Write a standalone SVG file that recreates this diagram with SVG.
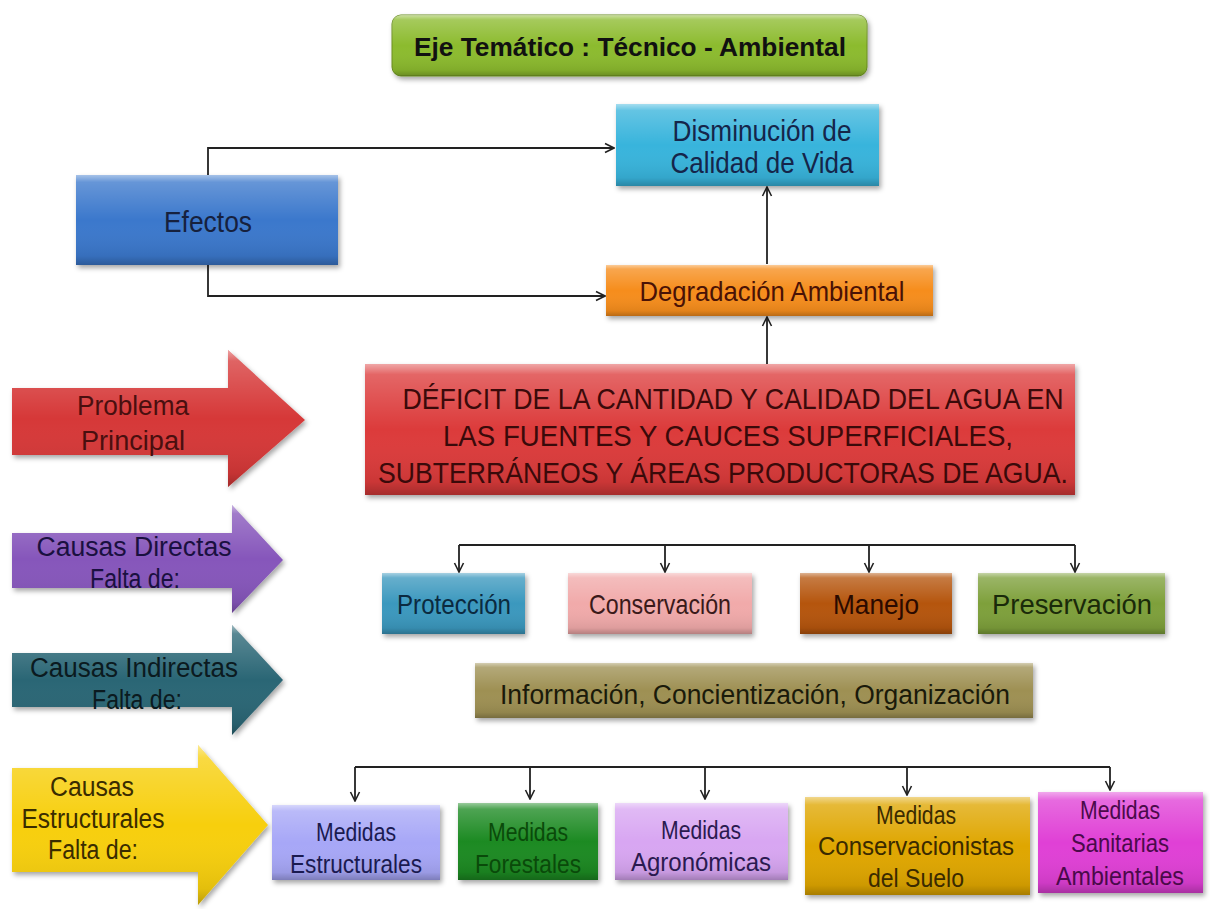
<svg xmlns="http://www.w3.org/2000/svg" width="1210" height="909" viewBox="0 0 1210 909">
<defs>
<filter id="sh" x="-10%" y="-10%" width="130%" height="140%"><feDropShadow dx="2" dy="3" stdDeviation="2.5" flood-color="#000" flood-opacity="0.35"/></filter>
<linearGradient id="gloss" x1="0" y1="0" x2="0" y2="1">
<stop offset="0" stop-color="#fff" stop-opacity="0.55"/>
<stop offset="0.08" stop-color="#fff" stop-opacity="0.22"/>
<stop offset="0.5" stop-color="#fff" stop-opacity="0"/>
<stop offset="0.9" stop-color="#000" stop-opacity="0.08"/>
<stop offset="1" stop-color="#000" stop-opacity="0.25"/>
</linearGradient>
<marker id="ah" viewBox="0 0 12 12" refX="11" refY="6" markerWidth="12" markerHeight="12" markerUnits="userSpaceOnUse" orient="auto">
<path d="M2,1.5 L11,6 L2,10.5" fill="none" stroke="#222" stroke-width="1.6"/>
</marker>
<style>
.t{font-family:"Liberation Sans",Arial,sans-serif;text-anchor:middle}
.g{fill:url(#gloss)}
.c{fill:none;stroke:#222;stroke-width:1.8}
</style>
</defs>
<rect width="1210" height="909" fill="#fff"/>

<g id="connectors">
<polyline class="c" points="208,175 208,148 614,148" marker-end="url(#ah)"/>
<polyline class="c" points="208,265 208,296 605,296" marker-end="url(#ah)"/>
<line class="c" x1="767" y1="264" x2="767" y2="187" marker-end="url(#ah)"/>
<line class="c" x1="767" y1="364" x2="767" y2="317" marker-end="url(#ah)"/>
<line class="c" x1="459" y1="545" x2="1075" y2="545"/>
<line class="c" x1="459" y1="545" x2="459" y2="572" marker-end="url(#ah)"/>
<line class="c" x1="665" y1="545" x2="665" y2="572" marker-end="url(#ah)"/>
<line class="c" x1="869" y1="545" x2="869" y2="572" marker-end="url(#ah)"/>
<line class="c" x1="1075" y1="545" x2="1075" y2="572" marker-end="url(#ah)"/>
<line class="c" x1="355" y1="767" x2="1110" y2="767"/>
<line class="c" x1="355" y1="767" x2="355" y2="801" marker-end="url(#ah)"/>
<line class="c" x1="530" y1="767" x2="530" y2="799" marker-end="url(#ah)"/>
<line class="c" x1="705" y1="767" x2="705" y2="799" marker-end="url(#ah)"/>
<line class="c" x1="907" y1="767" x2="907" y2="795" marker-end="url(#ah)"/>
<line class="c" x1="1110" y1="767" x2="1110" y2="790" marker-end="url(#ah)"/>
</g>

<g id="titulo">
<rect x="392" y="15" width="475" height="61" rx="9" fill="#8cbb2e" stroke="#6a8f20" stroke-width="1" filter="url(#sh)"/>
<rect x="392" y="15" width="475" height="61" rx="9" class="g"/>
<text class="t" x="630" y="56" font-size="26" font-weight="bold" fill="#111" textLength="432" lengthAdjust="spacingAndGlyphs">Eje Temático : Técnico - Ambiental</text>
</g>

<g id="disminucion">
<rect x="616" y="104" width="263" height="82" fill="#38b4dc" filter="url(#sh)"/>
<rect x="616" y="104" width="263" height="82" class="g"/>
<text class="t" x="762" y="141" font-size="29" fill="#15254a" textLength="179" lengthAdjust="spacingAndGlyphs">Disminución de</text>
<text class="t" x="762" y="173" font-size="29" fill="#15254a" textLength="183" lengthAdjust="spacingAndGlyphs">Calidad de Vida</text>
</g>

<g id="efectos">
<rect x="76" y="175" width="262" height="90" fill="#3a78cc" filter="url(#sh)"/>
<rect x="76" y="175" width="262" height="90" class="g"/>
<text class="t" x="208" y="232" font-size="29" fill="#16213e" textLength="88" lengthAdjust="spacingAndGlyphs">Efectos</text>
</g>

<g id="degradacion">
<rect x="606" y="265" width="327" height="51" fill="#f68d1f" filter="url(#sh)"/>
<rect x="606" y="265" width="327" height="51" class="g"/>
<text class="t" x="772" y="301" font-size="28" fill="#4a1206" textLength="265" lengthAdjust="spacingAndGlyphs">Degradación Ambiental</text>
</g>

<g id="problema">
<rect x="365" y="364" width="710" height="131" fill="#dc3a3a" filter="url(#sh)"/>
<rect x="365" y="364" width="710" height="131" class="g"/>
<text class="t" x="733" y="409" font-size="30" fill="#3a0a0a" textLength="661" lengthAdjust="spacingAndGlyphs">DÉFICIT DE LA CANTIDAD Y CALIDAD DEL AGUA EN</text>
<text class="t" x="728" y="446" font-size="30" fill="#3a0a0a" textLength="570" lengthAdjust="spacingAndGlyphs">LAS FUENTES Y CAUCES SUPERFICIALES,</text>
<text class="t" x="723" y="483" font-size="30" fill="#3a0a0a" textLength="690" lengthAdjust="spacingAndGlyphs">SUBTERRÁNEOS Y ÁREAS PRODUCTORAS DE AGUA.</text>
</g>

<g id="flecha-problema">
<path d="M12,388 H228 V350 L305,420 L228,487 V455 H12 Z" fill="#d63838" filter="url(#sh)"/>
<path d="M12,388 H228 V350 L305,420 L228,487 V455 H12 Z" class="g"/>
<text class="t" x="133" y="415" font-size="27" fill="#4a0f0f" textLength="112" lengthAdjust="spacingAndGlyphs">Problema</text>
<text class="t" x="133" y="450" font-size="27" fill="#4a0f0f" textLength="104" lengthAdjust="spacingAndGlyphs">Principal</text>
</g>

<g id="flecha-directas">
<path d="M12,533 H232 V505 L283,560 L232,613 V588 H12 Z" fill="#8656bb" filter="url(#sh)"/>
<path d="M12,533 H232 V505 L283,560 L232,613 V588 H12 Z" class="g"/>
<text class="t" x="134" y="556" font-size="27" fill="#1a1040" textLength="195" lengthAdjust="spacingAndGlyphs">Causas Directas</text>
<text class="t" x="135" y="588" font-size="27" fill="#1a1040" textLength="90" lengthAdjust="spacingAndGlyphs">Falta de:</text>
</g>

<g id="flecha-indirectas">
<path d="M12,653 H232 V625 L283,680 L232,735 V707 H12 Z" fill="#2c6674" filter="url(#sh)"/>
<path d="M12,653 H232 V625 L283,680 L232,735 V707 H12 Z" class="g"/>
<text class="t" x="134" y="677" font-size="27" fill="#0b1a20" textLength="208" lengthAdjust="spacingAndGlyphs">Causas Indirectas</text>
<text class="t" x="137" y="709" font-size="27" fill="#0b1a20" textLength="90" lengthAdjust="spacingAndGlyphs">Falta de:</text>
</g>

<g id="flecha-estructurales">
<path d="M12,768 H198 V745 L268,825 L198,905 V872 H12 Z" fill="#f7cf0a" filter="url(#sh)"/>
<path d="M12,768 H198 V745 L268,825 L198,905 V872 H12 Z" class="g"/>
<text class="t" x="92" y="796" font-size="27" fill="#3a2c00" textLength="84" lengthAdjust="spacingAndGlyphs">Causas</text>
<text class="t" x="93" y="828" font-size="27" fill="#3a2c00" textLength="143" lengthAdjust="spacingAndGlyphs">Estructurales</text>
<text class="t" x="93" y="859" font-size="27" fill="#3a2c00" textLength="90" lengthAdjust="spacingAndGlyphs">Falta de:</text>
</g>

<g id="proteccion">
<rect x="382" y="573" width="143" height="61" fill="#3a98be" filter="url(#sh)"/>
<rect x="382" y="573" width="143" height="61" class="g"/>
<text class="t" x="454" y="614" font-size="28" fill="#0b2a40" textLength="114" lengthAdjust="spacingAndGlyphs">Protección</text>
</g>
<g id="conservacion">
<rect x="568" y="573" width="184" height="61" fill="#f1aaaa" filter="url(#sh)"/>
<rect x="568" y="573" width="184" height="61" class="g"/>
<text class="t" x="660" y="614" font-size="28" fill="#3a1a1a" textLength="142" lengthAdjust="spacingAndGlyphs">Conservación</text>
</g>
<g id="manejo">
<rect x="800" y="573" width="152" height="61" fill="#b5540e" filter="url(#sh)"/>
<rect x="800" y="573" width="152" height="61" class="g"/>
<text class="t" x="876" y="614" font-size="28" fill="#2a0a00" textLength="86" lengthAdjust="spacingAndGlyphs">Manejo</text>
</g>
<g id="preservacion">
<rect x="978" y="573" width="187" height="61" fill="#7ea03a" filter="url(#sh)"/>
<rect x="978" y="573" width="187" height="61" class="g"/>
<text class="t" x="1072" y="614" font-size="28" fill="#1a2a0a" textLength="160" lengthAdjust="spacingAndGlyphs">Preservación</text>
</g>

<g id="informacion">
<rect x="475" y="663" width="558" height="55" fill="#9e9052" filter="url(#sh)"/>
<rect x="475" y="663" width="558" height="55" class="g"/>
<text class="t" x="755" y="704" font-size="27" fill="#1a1a0a" textLength="510" lengthAdjust="spacingAndGlyphs">Información, Concientización, Organización</text>
</g>

<g id="m-estructurales">
<rect x="272" y="805" width="168" height="75" fill="#a7a7f7" filter="url(#sh)"/>
<rect x="272" y="805" width="168" height="75" class="g"/>
<text class="t" x="356" y="841" font-size="26" fill="#1a1a50" textLength="80" lengthAdjust="spacingAndGlyphs">Medidas</text>
<text class="t" x="356" y="873" font-size="26" fill="#1a1a50" textLength="132" lengthAdjust="spacingAndGlyphs">Estructurales</text>
</g>
<g id="m-forestales">
<rect x="458" y="803" width="140" height="77" fill="#1b8a22" filter="url(#sh)"/>
<rect x="458" y="803" width="140" height="77" class="g"/>
<text class="t" x="528" y="841" font-size="26" fill="#0a4a0a" textLength="80" lengthAdjust="spacingAndGlyphs">Medidas</text>
<text class="t" x="528" y="873" font-size="26" fill="#0a4a0a" textLength="106" lengthAdjust="spacingAndGlyphs">Forestales</text>
</g>
<g id="m-agronomicas">
<rect x="615" y="803" width="173" height="77" fill="#d8a6f2" filter="url(#sh)"/>
<rect x="615" y="803" width="173" height="77" class="g"/>
<text class="t" x="701" y="839" font-size="26" fill="#2a1a50" textLength="80" lengthAdjust="spacingAndGlyphs">Medidas</text>
<text class="t" x="701" y="871" font-size="26" fill="#2a1a50" textLength="140" lengthAdjust="spacingAndGlyphs">Agronómicas</text>
</g>
<g id="m-conservacionistas">
<rect x="805" y="797" width="225" height="98" fill="#dfa603" filter="url(#sh)"/>
<rect x="805" y="797" width="225" height="98" class="g"/>
<text class="t" x="916" y="824" font-size="26" fill="#3a2a00" textLength="80" lengthAdjust="spacingAndGlyphs">Medidas</text>
<text class="t" x="916" y="855" font-size="26" fill="#3a2a00" textLength="196" lengthAdjust="spacingAndGlyphs">Conservacionistas</text>
<text class="t" x="916" y="887" font-size="26" fill="#3a2a00" textLength="96" lengthAdjust="spacingAndGlyphs">del Suelo</text>
</g>
<g id="m-sanitarias">
<rect x="1038" y="792" width="165" height="101" fill="#e03fd6" filter="url(#sh)"/>
<rect x="1038" y="792" width="165" height="101" class="g"/>
<text class="t" x="1120" y="819" font-size="26" fill="#4a0a4a" textLength="80" lengthAdjust="spacingAndGlyphs">Medidas</text>
<text class="t" x="1120" y="852" font-size="26" fill="#4a0a4a" textLength="98" lengthAdjust="spacingAndGlyphs">Sanitarias</text>
<text class="t" x="1120" y="885" font-size="26" fill="#4a0a4a" textLength="128" lengthAdjust="spacingAndGlyphs">Ambientales</text>
</g>
</svg>
